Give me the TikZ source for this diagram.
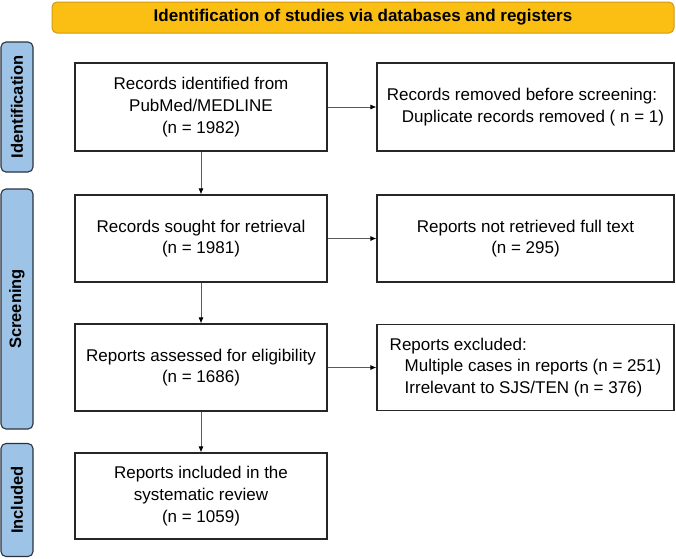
\documentclass[tikz,border=0pt]{standalone}
\usepackage{fontspec}
\setmainfont{Liberation Sans}
\usetikzlibrary{arrows.meta}
\definecolor{bannerfill}{HTML}{FBBE12}
\definecolor{bannerdraw}{HTML}{D29A10}
\definecolor{sidefill}{HTML}{9DC3E6}
\definecolor{sidedraw}{HTML}{2B3340}
\definecolor{arrowgray}{HTML}{5A5A5A}
\tikzset{
  box/.style={draw=black!85, line width=1.2pt, fill=white, inner sep=0pt, align=center,
    font=\fontsize{17}{21.7}\selectfont},
  leftbox/.style={box, align=left},
  sidebar/.style={draw=sidedraw, line width=1.1pt, fill=sidefill, rounded corners=5pt,
    minimum width=32pt, inner sep=0pt},
  sidelabel/.style={rotate=90, font=\fontsize{16.5}{18}\selectfont\bfseries},
  banner/.style={draw=bannerdraw, line width=1pt, fill=bannerfill, rounded corners=5pt,
    minimum width=622pt, minimum height=31pt, inner sep=0pt,
    font=\fontsize{17}{20}\selectfont\bfseries},
  flow/.style={draw=arrowgray, line width=0.8pt, -{Latex[length=6pt,width=5pt,color=black]}}
}
\begin{document}
\begin{tikzpicture}[x=1pt,y=-1pt]
\useasboundingbox (0,0) rectangle (676,558);
% banner
\node[banner] (ban) at (363,17.5) {Identification of studies via databases and registers};
% side bars
\node[sidebar, minimum height=130pt] (sid) at (17,107) {};
\node[sidelabel] (sidt) at (sid.center) {Identification};
\node[sidebar, minimum height=240pt] (ssc) at (17,309) {};
\node[sidelabel] (ssct) at (ssc.center) {Screening};
\node[sidebar, minimum height=113pt] (sin) at (17,500) {};
\node[sidelabel] (sint) at (sin.center) {Included};
% boxes
\node[box, minimum width=252pt, minimum height=88pt] (b1) at (201,107)
  {Records identified from\\PubMed/MEDLINE\\(n = 1982)};
\node[leftbox, minimum width=297pt, minimum height=88pt] (b2) at (525.5,107)
  {Records removed before screening:\\\hspace*{15pt}Duplicate records removed ( n = 1)};
\node[box, minimum width=252pt, minimum height=87pt] (b3) at (201,238.5)
  {Records sought for retrieval\\(n = 1981)};
\node[box, minimum width=297pt, minimum height=87pt] (b4) at (525.5,238.5)
  {Reports not retrieved full text\\(n = 295)};
\node[box, minimum width=252pt, minimum height=87pt] (b5) at (201,367.5)
  {Reports assessed for eligibility\\(n = 1686)};
\node[leftbox, minimum width=297pt, minimum height=86pt] (b6) at (525.5,367.5)
  {Reports excluded:\\\hspace*{15pt}Multiple cases in reports (n = 251)\\\hspace*{15pt}Irrelevant to SJS/TEN (n = 376)};
\node[box, minimum width=252pt, minimum height=86pt] (b7) at (201,496)
  {Reports included in the\\systematic review\\(n = 1059)};
% connectors
\draw[flow] (b1) -- (b2);
\draw[flow] (b3) -- (b4);
\draw[flow] (b5) -- (b6);
\draw[flow] (b1) -- (b3);
\draw[flow] (b3) -- (b5);
\draw[flow] (b5) -- (b7);
\end{tikzpicture}
\end{document}
